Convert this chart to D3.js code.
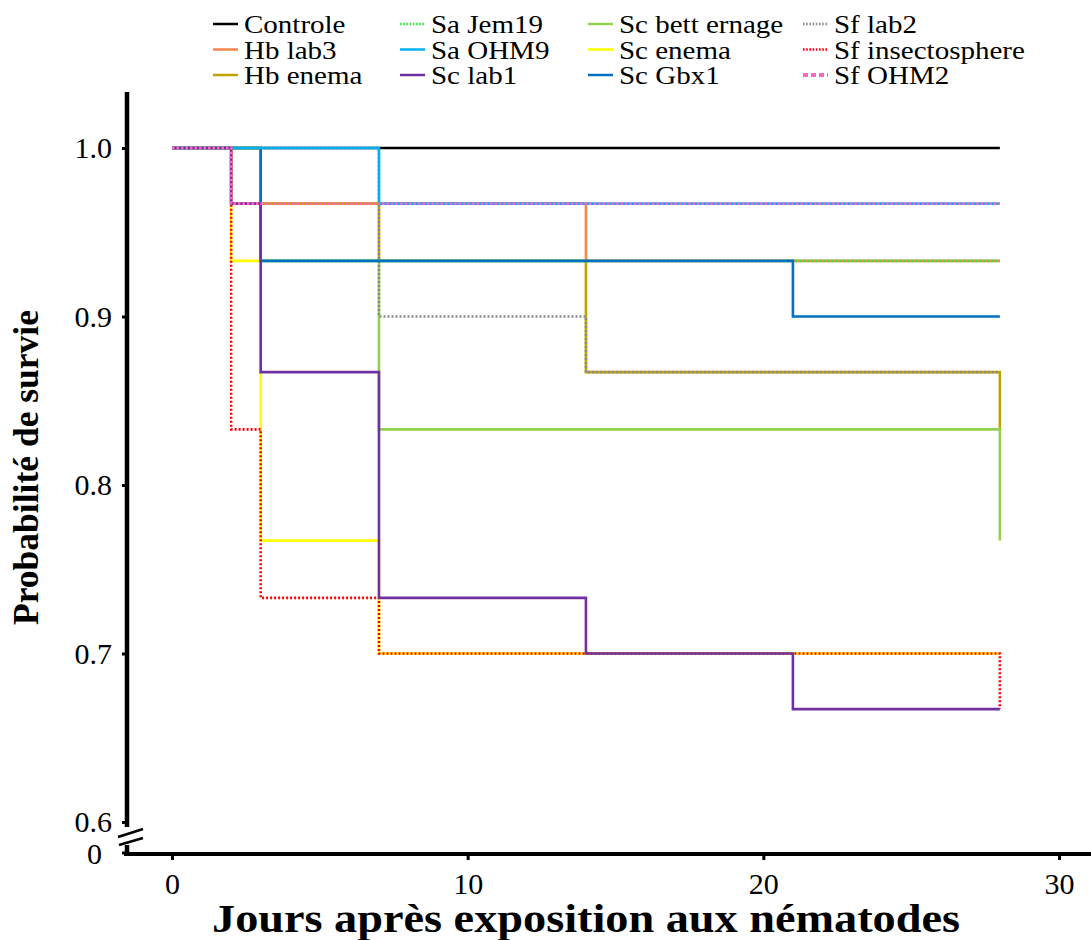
<!DOCTYPE html>
<html>
<head>
<meta charset="utf-8">
<script src="https://cdn.jsdelivr.net/npm/d3@7"></script>
<style>
  body { margin: 0; background: #fff; }
  text { font-family: "Liberation Serif", "Times New Roman", serif; }
</style>
</head>
<body>
<div id="chart"></div>
<script>
// survival, one value per day below (step after)
var days = [0, 2, 3, 7, 14, 21, 28];

var controle        = [1, 1,     1,     1,     1,     1,     1];
var hbLab3          = [1, 0.967, 0.967, 0.967, 0.933, 0.933, 0.933];
var hbEnema         = [1, 1,     0.967, 0.933, 0.867, 0.867, 0.833];
var saJem19         = [1, 1,     0.933, 0.933, 0.933, 0.933, 0.933];
var saOHM9          = [1, 1,     1,     0.967, 0.967, 0.967, 0.967];
var scLab1          = [1, 0.967, 0.867, 0.733, 0.7,   0.667, 0.667];
var scBettErnage    = [1, 1,     0.933, 0.833, 0.833, 0.833, 0.767];
var scEnema         = [1, 0.933, 0.767, 0.7,   0.7,   0.7,   0.7];
var scGbx1          = [1, 1,     0.933, 0.933, 0.933, 0.9,   0.9];
var sfLab2          = [1, 1,     1,     0.9,   0.867, 0.867, 0.867];
var sfInsectosphere = [1, 0.833, 0.733, 0.7,   0.7,   0.7,   0.667];
var sfOHM2          = [1, 0.967, 0.967, 0.967, 0.967, 0.967, 0.967];

var xTicks = [0, 10, 20, 30];
var yTicks = [0.6, 0.7, 0.8, 0.9, 1.0];

// legend order (column by column)
var series = [
  {name: "Controle",        values: controle,        color: "#000000", dash: null},
  {name: "Hb lab3",         values: hbLab3,          color: "#F4864A", dash: null},
  {name: "Hb enema",        values: hbEnema,         color: "#BFA200", dash: null},
  {name: "Sa Jem19",        values: saJem19,         color: "#2EEA3A", dash: "2,2"},
  {name: "Sa OHM9",         values: saOHM9,          color: "#00B0F0", dash: null},
  {name: "Sc lab1",         values: scLab1,          color: "#7030A0", dash: null},
  {name: "Sc bett ernage",  values: scBettErnage,    color: "#92D050", dash: null},
  {name: "Sc enema",        values: scEnema,         color: "#FFFF00", dash: null},
  {name: "Sc Gbx1",         values: scGbx1,          color: "#0070C0", dash: null},
  {name: "Sf lab2",         values: sfLab2,          color: "#8C8C8C", dash: "2,2"},
  {name: "Sf insectosphere",values: sfInsectosphere, color: "#FF0000", dash: "2,2"},
  {name: "Sf OHM2",         values: sfOHM2,          color: "#FF66C4", dash: "2.5,2"}
];

// which curve sits on top of which
var drawOrder = ["Controle", "Sc enema", "Sf insectosphere", "Hb lab3", "Hb enema",
  "Sc bett ernage", "Sf lab2", "Sa Jem19", "Sc Gbx1", "Sa OHM9", "Sc lab1", "Sf OHM2"];

var width = 1091, height = 940;

var svg = d3.select("#chart").append("svg")
  .attr("width", width)
  .attr("height", height);

var x = d3.scaleLinear().domain([0, 30]).range([172, 1059]);
var y = d3.scaleLinear().domain([0.6, 1.0]).range([822, 148]);

var axisX = 127, axisY = 854;

/*-- curves --*/
var line = d3.line()
  .x(function(d) { return x(d[0]); })
  .y(function(d) { return y(d[1]); })
  .curve(d3.curveStepAfter);

var byName = {};
series.forEach(function(s) { byName[s.name] = s; });

svg.append("g").attr("class", "curves")
  .selectAll("path")
  .data(drawOrder.map(function(n) { return byName[n]; }))
  .enter().append("path")
    .attr("d", function(s) { return line(days.map(function(d, i) { return [d, s.values[i]]; })); })
    .attr("fill", "none")
    .attr("stroke", function(s) { return s.color; })
    .attr("stroke-width", function(s) { return s.name == "Sf OHM2" ? 2.8 : 2.6; })
    .attr("stroke-dasharray", function(s) { return s.dash; });

/*-- axes --*/
var xAxis = d3.axisBottom(x).tickValues(xTicks).tickSize(6).tickPadding(13).tickFormat(d3.format("d"));
var gx = svg.append("g")
  .attr("transform", "translate(0," + axisY + ")")
  .call(xAxis);
gx.select(".domain").remove();
gx.selectAll(".tick line").attr("stroke", "#000").attr("stroke-width", 3);
gx.selectAll(".tick text").attr("font-size", 30).attr("fill", "#000")
  .style("font-family", "'Liberation Serif', serif");

var yAxis = d3.axisLeft(y).tickValues(yTicks).tickSize(5).tickPadding(10).tickFormat(d3.format(".1f"));
var gy = svg.append("g")
  .attr("transform", "translate(" + axisX + ",0)")
  .call(yAxis);
gy.select(".domain").remove();
gy.selectAll(".tick line").attr("stroke", "#000").attr("stroke-width", 3);
gy.selectAll(".tick text").attr("font-size", 30).attr("fill", "#000")
  .style("font-family", "'Liberation Serif', serif");

// axis lines with the break between 0.6 and 0
svg.append("line")
  .attr("x1", axisX).attr("x2", axisX)
  .attr("y1", 92).attr("y2", 827)
  .attr("stroke", "#000").attr("stroke-width", 4.5);
svg.append("line")
  .attr("x1", axisX).attr("x2", axisX)
  .attr("y1", 845).attr("y2", axisY + 2)
  .attr("stroke", "#000").attr("stroke-width", 4.5);
svg.append("line")
  .attr("x1", axisX - 3).attr("x2", width)
  .attr("y1", axisY).attr("y2", axisY)
  .attr("stroke", "#000").attr("stroke-width", 4);
svg.append("line")
  .attr("x1", 118).attr("y1", 837).attr("x2", 143).attr("y2", 829)
  .attr("stroke", "#000").attr("stroke-width", 2.5);
svg.append("line")
  .attr("x1", 119).attr("y1", 845).attr("x2", 143).attr("y2", 838)
  .attr("stroke", "#000").attr("stroke-width", 2.5);
svg.append("line")
  .attr("x1", axisX - 5).attr("x2", axisX)
  .attr("y1", axisY - 1).attr("y2", axisY - 1)
  .attr("stroke", "#000").attr("stroke-width", 3);
svg.append("text")
  .attr("x", axisX - 25).attr("y", axisY + 10)
  .attr("text-anchor", "end")
  .attr("font-size", 30)
  .text("0");

/*-- titles --*/
svg.append("text")
  .attr("x", 212).attr("y", 932)
  .attr("font-size", 39).attr("font-weight", "bold")
  .attr("textLength", 748).attr("lengthAdjust", "spacingAndGlyphs")
  .text("Jours après exposition aux nématodes");

svg.append("text")
  .attr("transform", "translate(38,625) rotate(-90)")
  .attr("font-size", 35).attr("font-weight", "bold")
  .attr("textLength", 315).attr("lengthAdjust", "spacingAndGlyphs")
  .text("Probabilité de survie");

/*-- legend --*/
var legX = [213, 400, 588, 803];
var legY = [24, 49.5, 75];

var leg = svg.append("g").attr("class", "legend")
  .selectAll("g")
  .data(series)
  .enter().append("g")
    .attr("transform", function(s, i) {
      return "translate(" + legX[Math.floor(i / 3)] + "," + legY[i % 3] + ")";
    });

leg.append("line")
  .attr("x1", 0).attr("x2", 25)
  .attr("stroke", function(s) { return s.color; })
  .attr("stroke-width", function(s) { return s.name == "Sf OHM2" ? 4 : 2.5; })
  .attr("stroke-dasharray", function(s) { return s.name == "Sf OHM2" ? "5,3" : (s.dash ? "1.6,1.6" : null); });

leg.append("text")
  .attr("transform", "translate(31,9) scale(1.16,1)")
  .attr("font-size", 25)
  .attr("fill", "#000")
  .text(function(s) { return s.name; });
</script>
</body>
</html>
